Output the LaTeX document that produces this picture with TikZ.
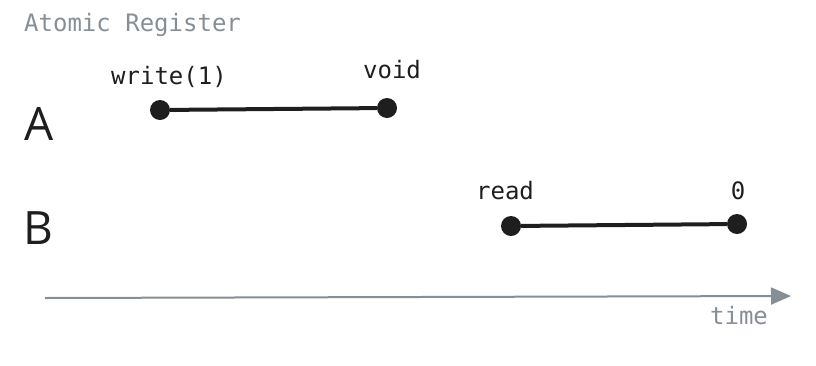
\documentclass[tikz,border=0pt]{standalone}
\usepackage{fontspec}
\setmonofont{DejaVu Sans Mono}
\setsansfont{Open Sans}
\usepackage{tikz}
\usetikzlibrary{positioning,arrows.meta}
\definecolor{ink}{HTML}{1E1E1E}
\definecolor{muted}{HTML}{868E96}

\begin{document}
\begin{tikzpicture}[
            x=1pt, y=-1pt,
            dot/.style={circle, fill=ink, minimum size=20pt, inner sep=0pt},
            op/.style={draw=ink, line width=4pt},
            lbl/.style={text=ink, inner sep=0pt, font=\fontsize{24}{28}\selectfont\ttfamily},
            proc/.style={text=ink, inner sep=0pt, font=\fontsize{46}{50}\selectfont\sffamily},
            dim/.style={text=muted, inner sep=0pt, font=\fontsize{24}{28}\selectfont\ttfamily}
        ]
        \useasboundingbox (0,0) rectangle (816,365);

        % Title
        \node[dim, anchor=west] (title) at (24,25) {Atomic Register};

        % Process names
        \node[proc] (pA) at (39,124) {A};
        \node[proc] (pB) at (38,228) {B};

        % Operation of A
        \node[dot] (a1) at (160,110) {};
        \node[dot] (a2) at (387,108) {};
        \node[lbl] (wA) at (169,77) {write(1)};
        \node[lbl] (vA) at (392,70) {void};
        \draw[op] (a1) -- (a2);

        % Operation of B
        \node[dot] (b1) at (511,226) {};
        \node[dot] (b2) at (737,224) {};
        \node[lbl] (rB) at (505,191) {read};
        \node[lbl] (zB) at (738,191) {0};
        \draw[op] (b1) -- (b2);

        % Time axis
        \coordinate (t0) at (45,298);
        \coordinate (t1) at (791,296);
        \draw[muted, line width=2pt, -{Triangle[length=20pt, width=17pt]}] (t0) -- (t1);
        \node[dim] (tm) at (739,316) {time};
    \end{tikzpicture}
\end{document}
